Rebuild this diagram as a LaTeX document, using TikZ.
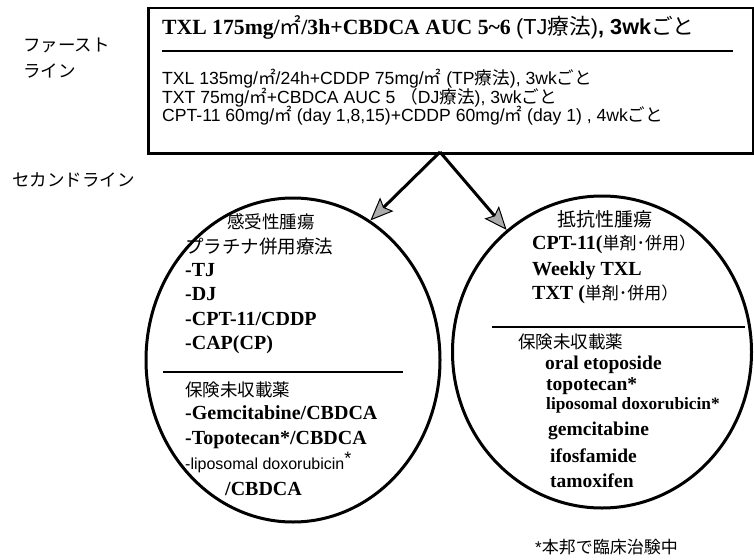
\documentclass[tikz,border=0pt]{standalone}
\usepackage{fontspec}
\setmainfont{Liberation Serif}
\setsansfont{Liberation Sans}
\newfontfamily\jpf{Noto Sans CJK JP}
\usetikzlibrary{shapes.geometric,arrows.meta}
\newcommand\jt[1]{{\jpf\mdseries #1}}
\newcommand\sqm{{\jpf\mdseries ㎡}}
\newcommand\fs[1]{\fontsize{#1}{#1}\selectfont}
\tikzset{
  txt/.style={inner sep=0pt, anchor=base west},
  ser/.style={txt, font={\bfseries\fs{20}}},
  sers/.style={txt, font={\bfseries\fs{19.5}}},
  jpn/.style={txt, font={\jpf\fs{17.5}}},
  rulel/.style={line width=1.5pt},
  circ/.style={ellipse, draw, line width=3pt, inner sep=0pt},
  arr/.style={line width=3pt, -{Stealth[length=23pt,width=19pt,inset=4pt,fill=gray!65,line width=1pt]}}
}
\begin{document}
\begin{tikzpicture}[x=1pt,y=-1pt]
\useasboundingbox (0,0) rectangle (754,559);

% left labels
\node[jpn] (fl1) at (23,52) {ファースト};
\node[jpn] (fl2) at (23,78) {ライン};
\node[jpn] (sl) at (12,186) {セカンドライン};

% first-line box
\node[draw, line width=2.5pt, minimum width=605pt, minimum height=145pt, anchor=north west, inner sep=0pt] (box) at (147,7) {};
\node[txt, font={\fs{21.7}}] (t0) at (162,35) {{\bfseries TXL 175mg/\sqm/3h+CBDCA AUC 5\textasciitilde 6} {\sffamily (TJ\jt{療法})\bfseries, 3wk\jt{ごと}}};
\draw[rulel] (162,51) -- (733,51);
\node[inner sep=0pt, anchor=north west, align=left, font={\sffamily\fontsize{17.6}{18.6}\selectfont\lineskiplimit=-100pt}] (tp) at (162,69) {TXL 135mg/\sqm/24h+CDDP 75mg/\sqm{} (TP\jt{療法}), 3wk\jt{ごと}\\
TXT 75mg/\sqm+CBDCA AUC 5 \jt{（}DJ\jt{療法}), 3wk\jt{ごと}\\
CPT-11 60mg/\sqm{} (day 1,8,15)+CDDP 60mg/\sqm{} (day 1) , 4wk\jt{ごと}};

% circles
\node[circ, minimum width=294pt, minimum height=324pt] (L) at (293,360) {};
\node[circ, minimum width=299pt, minimum height=312pt] (R) at (602,352) {};

% arrows
\coordinate (split) at (440,152);
\draw[arr] (split) -- (L.61);
\draw[arr] (split) -- (R.128);

% left circle text
\node[jpn] (l0) at (227,228) {感受性腫瘍};
\node[jpn, font={\jpf\fs{18.5}}] (l1) at (185,253) {プラチナ併用療法};
\node[ser] (l2) at (185,276) {-TJ};
\node[ser] (l3) at (185,300) {-DJ};
\node[ser] (l4) at (185,325) {-CPT-11/CDDP};
\node[ser] (l5) at (185,349) {-CAP(CP)};
\draw[rulel] (163,372) -- (403,372);
\node[jpn] (l6) at (185,396) {保険未収載薬};
\node[ser] (l7) at (185,419) {-Gemcitabine/CBDCA};
\node[ser] (l8) at (185,444) {-Topotecan*/CBDCA};
\node[txt, font={\sffamily\fs{16}}] (l9) at (185,469) {-liposomal doxorubicin\raisebox{5pt}{\fs{18}*}};
\node[ser] (l10) at (225,495) {/CBDCA};

% right circle text
\node[jpn, font={\jpf\fs{19}}] (r0) at (557,226) {抵抗性腫瘍};
\node[ser] (r1) at (532,249) {CPT-11(\jt{\fs{17}単剤･併用）}};
\node[ser] (r2) at (532,275) {Weekly TXL};
\node[ser] (r3) at (532,299) {TXT (\jt{\fs{17}単剤･併用）}};
\draw[rulel] (492,327) -- (745,327);
\node[jpn] (r4) at (518,348) {保険未収載薬};
\node[sers] (r5) at (545,369) {oral etoposide};
\node[sers] (r6) at (546,390) {topotecan*};
\node[txt, font={\bfseries\fs{17.3}}] (r7) at (546,409) {liposomal doxorubicin*};
\node[sers] (r8) at (548,435) {gemcitabine};
\node[sers] (r9) at (550,462) {ifosfamide};
\node[sers] (r10) at (550,487) {tamoxifen};

% footnote
\node[txt, font={\sffamily\fs{17}}] (fn) at (535,553) {*\jt{本邦で臨床治験中}};
\end{tikzpicture}
\end{document}
